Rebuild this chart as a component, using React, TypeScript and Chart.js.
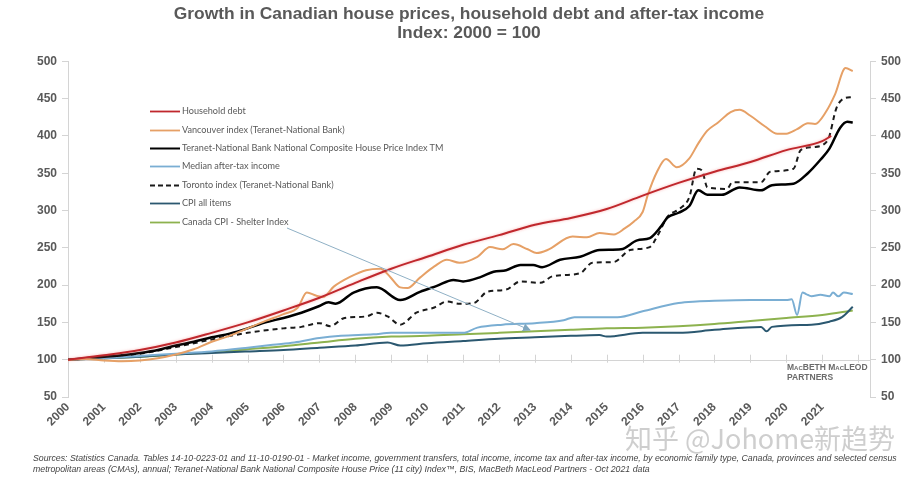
import React, { useEffect, useRef } from 'react';
import { Chart, registerables } from 'chart.js';

Chart.register(...registerables);

// ---------- DATA ----------
const titleLines = [
  'Growth in Canadian house prices, household debt and after-tax income',
  'Index: 2000 = 100',
];

const yearTicks = [2000, 2001, 2002, 2003, 2004, 2005, 2006, 2007, 2008, 2009, 2010, 2011,
  2012, 2013, 2014, 2015, 2016, 2017, 2018, 2019, 2020, 2021, 2022];
const yearLabels = ['2000', '2001', '2002', '2003', '2004', '2005', '2006', '2007', '2008', '2009', '2010',
  '2011', '2012', '2013', '2014', '2015', '2016', '2017', '2018', '2019', '2020', '2021', ''];
const yTicks = [50, 100, 150, 200, 250, 300, 350, 400, 450, 500];

const seriesNames = [
  'Household debt',
  'Vancouver index (Teranet-National Bank)',
  'Teranet-National Bank National Composite House Price Index TM',
  'Median after-tax income',
  'Toronto index (Teranet-National Bank)',
  'CPI all items',
  'Canada CPI - Shelter Index',
];

const householdDebt: [number, number][] = [
  [2000, 100], [2001, 106], [2002, 113], [2003, 123], [2004, 136], [2005, 150], [2006, 166],
  [2007, 183], [2008, 203], [2009, 222], [2010, 238], [2011, 254], [2012, 267], [2013, 281],
  [2014, 290], [2015, 302], [2016, 320], [2017, 337], [2018, 352], [2019, 365], [2020, 381],
  [2021, 393], [2021.25, 400],
];

const vancouver: [number, number][] = [
  [2000, 100], [2000.5, 101], [2001, 99], [2001.5, 98], [2002, 99], [2002.5, 102], [2003, 107],
  [2003.5, 114], [2004, 124], [2004.5, 132], [2005, 142], [2005.5, 152], [2006, 161], [2006.4, 170],
  [2006.65, 190], [2006.9, 186], [2007.1, 184], [2007.4, 198], [2007.85, 211], [2008.3, 220],
  [2008.7, 222], [2008.97, 211], [2009.25, 197], [2009.45, 196], [2009.8, 210], [2010.2, 225],
  [2010.55, 234], [2010.9, 230], [2011.4, 238], [2011.75, 251], [2012.1, 248], [2012.4, 255],
  [2012.8, 248], [2013.05, 243], [2013.35, 247], [2014.05, 265], [2014.45, 264], [2014.8, 270],
  [2015.2, 268], [2015.5, 276], [2015.75, 285], [2016, 298], [2016.15, 322], [2016.4, 352],
  [2016.65, 369], [2016.95, 358], [2017.3, 370], [2017.55, 390], [2017.8, 407], [2018.1, 418],
  [2018.45, 432], [2018.7, 435], [2019, 427], [2019.4, 413], [2019.75, 403], [2020, 403],
  [2020.3, 409], [2020.6, 417], [2020.8, 416], [2021.1, 432], [2021.35, 455], [2021.65, 491],
  [2021.85, 487],
];

const teranetComposite: [number, number][] = [
  [2000, 100], [2000.5, 102], [2001, 104], [2001.5, 106], [2002, 109], [2002.5, 113], [2003, 119],
  [2003.5, 124], [2004, 130], [2004.5, 135], [2005, 142], [2005.5, 150], [2006, 156], [2006.5, 163],
  [2007, 172], [2007.25, 177], [2007.45, 175], [2007.95, 190], [2008.6, 197], [2009.25, 180],
  [2009.8, 191], [2010.27, 199], [2010.73, 207], [2011, 205], [2011.5, 211], [2011.85, 218],
  [2012.2, 220], [2012.6, 227], [2012.95, 227], [2013.2, 224], [2013.7, 234], [2014.26, 238],
  [2014.8, 247], [2015.4, 248], [2015.85, 260], [2016.2, 263], [2016.5, 278], [2016.7, 291],
  [2017, 297], [2017.3, 306], [2017.55, 327], [2017.8, 321], [2018.2, 321], [2018.7, 331],
  [2019.3, 327], [2019.6, 334], [2020.2, 336], [2020.6, 350], [2020.95, 368], [2021.2, 383],
  [2021.5, 411], [2021.7, 419], [2021.85, 418],
];

const medianIncome: [number, number][] = [
  [2000, 100], [2001, 102], [2002, 105], [2003, 108], [2004, 111], [2005, 116], [2005.7, 120],
  [2006.3, 123], [2007, 129], [2007.6, 132], [2008.5, 134], [2009, 136], [2010, 136], [2011, 136],
  [2011.4, 143], [2012.1, 147], [2013, 149], [2013.8, 153], [2014.1, 157], [2015.3, 157],
  [2016, 165], [2017, 176], [2017.5, 178], [2018, 179], [2019, 180], [2020, 180], [2020.15, 181],
  [2020.3, 160], [2020.45, 190], [2020.55, 188], [2020.7, 185], [2020.95, 187], [2021.2, 185],
  [2021.3, 190], [2021.45, 185], [2021.6, 190], [2021.85, 188],
];

const toronto: [number, number][] = [
  [2000, 100], [2001, 103], [2002, 108], [2003, 117], [2004, 127], [2005, 136], [2006, 142],
  [2006.5, 144], [2007, 149], [2007.3, 145], [2007.7, 156], [2008.3, 158], [2008.6, 163],
  [2008.9, 158], [2009.25, 147], [2009.7, 163], [2010.2, 170], [2010.55, 178], [2010.9, 175],
  [2011.3, 176], [2011.67, 191], [2012.2, 194], [2012.6, 205], [2013.15, 203], [2013.5, 212],
  [2014.26, 216], [2014.6, 230], [2015.2, 231], [2015.65, 247], [2016.2, 251], [2016.4, 265],
  [2016.7, 292], [2017.05, 303], [2017.3, 318], [2017.5, 356], [2017.65, 354], [2017.8, 331],
  [2018.35, 329], [2018.5, 338], [2019.3, 338], [2019.55, 352], [2020.2, 356], [2020.4, 381],
  [2020.75, 385], [2021.15, 394], [2021.4, 438], [2021.6, 450], [2021.84, 452],
];

const cpiAllItems: [number, number][] = [
  [2000, 100], [2001, 102], [2002, 104], [2003, 107], [2004, 109], [2005, 111], [2006, 113],
  [2007, 116], [2008, 119], [2008.9, 123], [2009.25, 119], [2010, 122], [2011, 125], [2012, 128],
  [2013, 130], [2014, 132], [2014.8, 133], [2015, 131], [2016, 136], [2017, 136], [2018, 140],
  [2019.3, 144], [2019.45, 138], [2019.6, 144], [2020.7, 147], [2021.2, 151], [2021.55, 157],
  [2021.85, 171],
];

const shelterIndex: [number, number][] = [
  [2000, 100], [2001, 102], [2002, 104], [2003, 107], [2004, 110], [2005, 114], [2006, 118],
  [2007, 123], [2008, 128], [2009, 131], [2010, 132], [2011, 134], [2012, 136], [2013, 138],
  [2014, 140], [2015, 142], [2016, 143], [2017, 145], [2018, 148], [2019, 152], [2020, 156],
  [2021, 160], [2021.85, 166],
];

const sourceLines = [
  'Sources: Statistics Canada. Tables 14-10-0223-01 and 11-10-0190-01 -  Market income, government transfers, total income, income tax and after-tax income, by economic family type, Canada, provinces and selected census',
  'metropolitan areas (CMAs), annual; Teranet-National Bank National Composite House Price (11 city) Index\u2122, BIS, MacBeth MacLeod Partners - Oct 2021 data',
];

// ---------- STYLE ----------
const colors = ['#c0282d', '#e6a066', '#000000', '#7aaed3', '#1a1a1a', '#2b5870', '#8db24e'];
const widths = [2, 2, 2.5, 2, 2, 2, 2];
const dashes: number[][] = [[], [], [], [], [5, 4], [], []];
const allSeries = [householdDebt, vancouver, teranetComposite, medianIncome, toronto, cpiAllItems, shelterIndex];
const grey = '#595959';
const axisGrey = '#d4d4d4';

const baselinePlugin = {
  id: 'baseline',
  beforeDatasetsDraw(chart: any) {
    const { ctx, chartArea, scales } = chart;
    const y = scales.y.getPixelForValue(100);
    ctx.save();
    ctx.strokeStyle = axisGrey;
    ctx.lineWidth = 1;
    ctx.beginPath();
    ctx.moveTo(chartArea.left, Math.round(y) + 0.5);
    ctx.lineTo(chartArea.right, Math.round(y) + 0.5);
    yearTicks.forEach((t) => {
      const x = Math.round(scales.x.getPixelForValue(t)) + 0.5;
      ctx.moveTo(x, y - 5);
      ctx.lineTo(x, y + 3);
    });
    ctx.stroke();
    ctx.restore();
  },
  beforeDatasetDraw(chart: any, args: any) {
    if (args.index === 0) {
      chart.ctx.save();
      chart.ctx.shadowColor = 'rgba(245,130,130,0.6)';
      chart.ctx.shadowBlur = 3;
    }
  },
  afterDatasetDraw(chart: any, args: any) {
    if (args.index === 0) chart.ctx.restore();
  },
};

const legendRows = [111, 130, 148, 166, 185, 203, 222];

export default function App() {
  const ref = useRef<HTMLCanvasElement>(null);

  useEffect(() => {
    const yAxisCommon = {
      type: 'linear' as const,
      min: 50,
      max: 500,
      afterBuildTicks: (s: any) => { s.ticks = yTicks.map((v) => ({ value: v })); },
      grid: { drawOnChartArea: false, drawTicks: true, tickLength: 6, color: axisGrey },
      border: { display: true, color: axisGrey },
      ticks: {
        padding: 5,
        color: grey,
        font: { family: 'Liberation Sans, Arial, sans-serif', size: 12, weight: 'bold' as const },
      },
    };
    const chart = new Chart(ref.current!, {
      type: 'line',
      data: {
        datasets: allSeries.map((s, i) => ({
          label: seriesNames[i],
          data: s.map(([x, y]) => ({ x, y })),
          borderColor: colors[i],
          backgroundColor: colors[i],
          borderWidth: widths[i],
          borderDash: dashes[i],
          pointRadius: 0,
          cubicInterpolationMode: 'monotone' as const,
          yAxisID: 'y',
        })),
      },
      plugins: [baselinePlugin],
      options: {
        responsive: false,
        animation: false,
        devicePixelRatio: 1,
        layout: { padding: { left: 0, right: 0, top: 0, bottom: 49 } },
        plugins: {
          legend: { display: false },
          tooltip: { enabled: false },
          title: {
            display: true,
            text: titleLines,
            fullSize: false,
            color: grey,
            font: { family: 'Liberation Sans, Arial, sans-serif', size: 17.4, weight: 'bold', lineHeight: 1.13 },
            padding: { top: 4, bottom: 18 },
          },
        },
        scales: {
          x: {
            type: 'linear',
            min: 2000,
            max: 2022.33,
            afterBuildTicks: (s: any) => { s.ticks = yearTicks.map((v) => ({ value: v })); },
            afterFit: (s: any) => { s.height = 35; },
            grid: { display: false, drawTicks: false },
            border: { display: false },
            ticks: {
              autoSkip: false,
              minRotation: 45,
              maxRotation: 45,
              padding: 3,
              color: grey,
              font: { family: 'Liberation Sans, Arial, sans-serif', size: 12, weight: 'bold' },
              callback: (v: any) => yearLabels[yearTicks.indexOf(Number(v))] ?? '',
            },
          },
          y: { ...yAxisCommon, position: 'left', afterFit: (s: any) => { s.width = 68; } },
          y2: { ...yAxisCommon, position: 'right', afterFit: (s: any) => { s.width = 46; } },
        },
      },
    });
    return () => chart.destroy();
  }, []);

  const legendFont = 'Lato, "Open Sans", sans-serif';

  return (
    <div style={{ position: 'absolute', left: 0, top: 0, width: 916, height: 481, background: '#fff', overflow: 'hidden' }}>
      <canvas ref={ref} width={916} height={481} style={{ position: 'absolute', left: 0, top: 0 }} />
      <svg width={916} height={481} style={{ position: 'absolute', left: 0, top: 0, pointerEvents: 'none' }}>
        <defs>
          <marker id="ah" markerWidth="8" markerHeight="8" refX="7" refY="4" orient="auto" markerUnits="userSpaceOnUse">
            <path d="M0,0 L8,4 L0,8 z" fill="#7fa6be" />
          </marker>
        </defs>
        <line x1={287} y1={228} x2={530} y2={330} stroke="#8fb0c5" strokeWidth={1} markerEnd="url(#ah)" />
        {legendRows.map((y, i) => (
          <line key={i} x1={150} y1={y + 0.5} x2={180} y2={y + 0.5} stroke={colors[i]}
            strokeWidth={i === 2 || i === 4 ? 2 : 1.8} strokeDasharray={i === 4 ? '5 3' : undefined} />
        ))}
      </svg>
      {legendRows.map((y, i) => (
        <div key={i} style={{ position: 'absolute', left: 182, top: y - 7, fontFamily: legendFont, fontSize: 9.1, lineHeight: '14px', color: grey, whiteSpace: 'nowrap' }}>
          {seriesNames[i]}
        </div>
      ))}
      <div style={{ position: 'absolute', left: 787, top: 362, fontFamily: 'Liberation Sans, Arial, sans-serif', fontSize: 8.5, fontWeight: 'bold', lineHeight: '10px', color: '#6b6b6b', fontVariant: 'small-caps', whiteSpace: 'nowrap' }}>
        <div>MacBETH MacLEOD</div>
        <div>PARTNERS</div>
      </div>
      <div style={{ position: 'absolute', left: 625, top: 422, fontFamily: '"Noto Sans CJK SC", sans-serif', fontSize: 27, lineHeight: '32px', color: 'rgba(190,190,190,0.75)', whiteSpace: 'nowrap' }}>
        知乎 @Johome新趋势
      </div>
      <div style={{ position: 'absolute', left: 33, top: 453, fontFamily: 'Liberation Sans, Arial, sans-serif', fontSize: 8.75, fontStyle: 'italic', lineHeight: '11px', color: '#444', whiteSpace: 'nowrap' }}>
        <div>{sourceLines[0]}</div>
        <div>{sourceLines[1]}</div>
      </div>
    </div>
  );
}
